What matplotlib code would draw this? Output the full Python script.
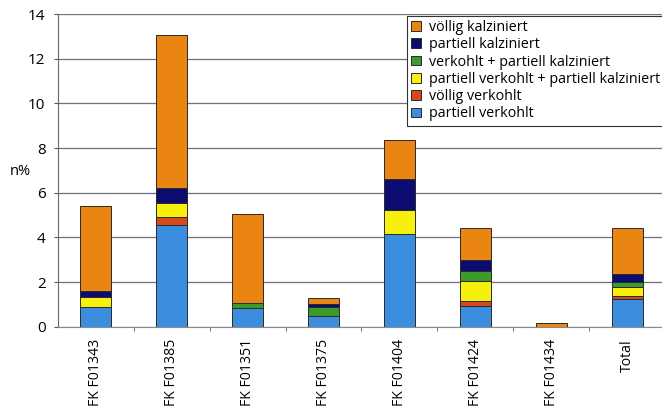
import matplotlib
matplotlib.use("Agg")
import matplotlib.pyplot as plt
import numpy as np

plt.rcParams['font.family'] = ['Open Sans', 'DejaVu Sans']

categories = ["FK F01343", "FK F01385", "FK F01351", "FK F01375",
              "FK F01404", "FK F01424", "FK F01434", "Total"]

# stacked from bottom to top
partiell_verkohlt = [0.87, 4.55, 0.82, 0.48, 4.14, 0.93, 0.00, 1.23]
voellig_verkohlt = [0.00, 0.35, 0.00, 0.00, 0.00, 0.22, 0.00, 0.16]
pv_pk = [0.47, 0.63, 0.00, 0.00, 1.07, 0.90, 0.00, 0.40]
verkohlt_pk = [0.00, 0.00, 0.23, 0.39, 0.00, 0.46, 0.00, 0.20]
partiell_kalziniert = [0.25, 0.67, 0.00, 0.15, 1.40, 0.46, 0.00, 0.37]
voellig_kalziniert = [3.81, 6.86, 4.01, 0.25, 1.75, 1.45, 0.18, 2.07]

series = [
    ("partiell verkohlt", partiell_verkohlt, "#3b8ede"),
    ("völlig verkohlt", voellig_verkohlt, "#d9481c"),
    ("partiell verkohlt + partiell kalziniert", pv_pk, "#f7ef0c"),
    ("verkohlt + partiell kalziniert", verkohlt_pk, "#3f9a2c"),
    ("partiell kalziniert", partiell_kalziniert, "#0b0b70"),
    ("völlig kalziniert", voellig_kalziniert, "#ea8412"),
]

fig = plt.figure(figsize=(6.62, 4.08), dpi=100)
ax = fig.add_axes([58/662, 81.3/408, 607/662, 312.7/408])

x = np.arange(len(categories))
bottom = np.zeros(len(categories))
handles = []
for name, vals, col in series:
    v = np.array(vals)
    h = ax.bar(x, v, width=0.41, bottom=bottom, color=col,
               edgecolor="#2a2a2a", linewidth=0.7, label=name, zorder=3)
    handles.append(h)
    bottom += v

ax.set_xlim(-0.5, 7.5)
ax.set_ylim(0, 14)
ax.set_yticks(np.arange(0, 15, 2))
ax.yaxis.grid(True, color="#6f6f80", linewidth=0.9, zorder=0)
ax.set_axisbelow(True)

ax.set_xticks(x)
ax.set_xticklabels(categories, rotation=90, fontsize=10.1)
ax.set_xticks(np.arange(0.5, 7.5, 1), minor=True)
ax.tick_params(axis='x', which='major', length=0, pad=9)
ax.tick_params(axis='x', which='minor', length=3, color="#555555")
ax.tick_params(axis='y', length=3, labelsize=11, pad=6, color="#555555")

for s in ["top", "right"]:
    ax.spines[s].set_visible(False)
ax.spines["left"].set_color("#6a6a60")
ax.spines["bottom"].set_color("#8a8a90")

fig.text(20/662, 1 - 171/408, "n%", ha="center", va="center", fontsize=10.5)

leg = ax.legend(handles[::-1], [s[0] for s in series][::-1],
                loc="upper left", bbox_to_anchor=((407-58)/607, (327-16)/312.7),
                fontsize=10.3, frameon=True, fancybox=False, edgecolor="#333333",
                framealpha=1, handlelength=0.65, handleheight=0.65,
                handletextpad=0.6, labelspacing=0.16, borderpad=0.3,
                borderaxespad=0)
leg.get_frame().set_linewidth(0.8)
leg.set_zorder(5)

fig.savefig("out.png", dpi=100)
